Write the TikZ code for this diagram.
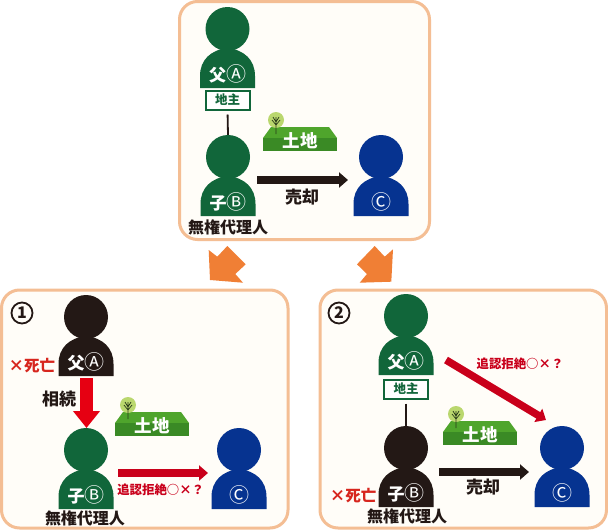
\documentclass[tikz,border=0pt]{standalone}
\usepackage{fontspec}
\setmainfont{Noto Sans CJK JP}
\usetikzlibrary{arrows.meta}
\definecolor{panelline}{HTML}{F4BE94}
\definecolor{panelfill}{HTML}{FFFDF8}
\definecolor{pgreen}{HTML}{11663A}
\definecolor{pblue}{HTML}{063390}
\definecolor{pblack}{HTML}{231815}
\definecolor{parrow}{HTML}{F07F35}
\definecolor{redone}{HTML}{E60012}
\definecolor{redtwo}{HTML}{C9001B}
\definecolor{redtext}{HTML}{D7261E}
\definecolor{landtop}{HTML}{4FA52C}
\definecolor{landside}{HTML}{3A8A25}
\definecolor{treecol}{HTML}{BAD76E}
\newcommand\circd[1]{{\fontsize{20}{20}\selectfont\raisebox{-.5pt}{#1}}}
\tikzset{
  panel/.style={draw=panelline,fill=panelfill,line width=3pt,rounded corners=18pt},
  blockarrow/.style={fill=parrow,draw=none},
  head/.style={circle,draw=none,minimum size=44pt,inner sep=0pt},
  plabel/.style={text=white,font=\fontsize{17}{17}\selectfont,inner sep=0pt},
  lbl/.style={text=pblack,font=\bfseries\fontsize{16}{16}\selectfont,inner sep=0pt},
  sell/.style={text=pblack,font=\bfseries\fontsize{17}{17}\selectfont,inner sep=0pt},
  deadlbl/.style={text=redtext,font=\bfseries\fontsize{15.5}{16}\selectfont,inner sep=0pt},
  asklbl/.style={text=redtwo,font=\bfseries\fontsize{12.4}{13}\selectfont,inner sep=0pt},
  ownerbox/.style={draw=pgreen,fill=white,line width=2pt,minimum width=44pt,minimum height=19pt,inner sep=0pt,text=pgreen,font=\bfseries\fontsize{12.5}{13}\selectfont},
  landlbl/.style={text=white,font=\bfseries\fontsize{17.5}{18}\selectfont,inner sep=0pt},
  sellarrow/.style={draw=pblack,line width=8pt,-{Triangle[length=9pt,width=15pt]}},
  askarrow/.style={draw=redtwo,line width=7.5pt,-{Triangle[length=9pt,width=15pt]}},
  inherit/.style={draw=redone,line width=13pt,-{Triangle[length=17pt,width=26pt]}},
  tie/.style={draw=pblack,line width=1.8pt,shorten <=4pt},
  numc/.style={circle,draw=pblack,line width=1.8pt,minimum size=21pt,inner sep=0pt,font=\bfseries\fontsize{16}{16}\selectfont,text=pblack}
}
% name, x, y (head centre), colour, label
\newcommand\personfig[5]{%
  \fill[#4] (#2-27.5,#3+59) -- (#2-27.5,#3+47) .. controls (#2-27.5,#3+31) and (#2-17,#3+21) .. (#2,#3+19)
     .. controls (#2+17,#3+21) and (#2+27.5,#3+31) .. (#2+27.5,#3+47) -- (#2+27.5,#3+59) -- cycle;
  \node[head,fill=#4] (#1) at (#2,#3) {};
  \node[plabel] (#1t) at (#2,#3+45) {#5};
}
% name, left x, top y
\newcommand\landfig[3]{%
  \fill[landtop] (#2+8,#3) -- (#2+66,#3) -- (#2+74,#3+11) -- (#2,#3+11) -- cycle;
  \fill[landside] (#2,#3+11) rectangle (#2+74,#3+24);
  \fill[treecol] (#2+13,#3-7) circle[radius=8pt];
  \draw[pblack!70!landside,line width=.7pt] (#2+13,#3+7) -- (#2+13,#3-10) (#2+13,#3-2) -- (#2+9,#3-7) (#2+13,#3-2) -- (#2+17,#3-7) (#2+13,#3-5) -- (#2+10,#3-10) (#2+13,#3-5) -- (#2+16,#3-10);
  \node[landlbl] (#1) at (#2+37,#3+14) {土地};
}
\begin{document}
\begin{tikzpicture}[x=1pt,y=-1pt]
\useasboundingbox (0,0) rectangle (608,530);
\fill[white] (0,0) rectangle (608,530);
% panels
\draw[panel] (179.5,1.5) rectangle (429.5,239.5);
\draw[panel] (1.5,290) rectangle (288,528);
\draw[panel] (320,290) rectangle (606.5,528);
% orange arrows
\fill[blockarrow] (208.7,250) -- (217.3,256.7) -- (227.3,246) -- (245.7,264.3) -- (235.3,274) -- (243,282.7) -- (210,280) -- cycle;
\fill[blockarrow] (393,249.3) -- (384.7,256.7) -- (374.7,246) -- (357,264.3) -- (367,274) -- (359.7,282.7) -- (391.3,281.7) -- cycle;
% top panel
\personfig{ta}{227.5}{29}{pgreen}{\textbf{父}\circd{Ⓐ}}
\personfig{tb}{228}{157}{pgreen}{\textbf{子}\circd{Ⓑ}}
\personfig{tc}{381}{157}{pblue}{\circd{Ⓒ}}
\node[ownerbox] (tbox) at (227.5,100) {地主};
\draw[tie] (tbox.south) -- (tb.north);
\landfig{tland}{263}{127}
\coordinate (ts) at (257,180);
\coordinate (te) at (348,180);
\draw[sellarrow] (ts) -- (te);
\node[sell] (tsell) at (302,197) {売却};
\node[lbl] (tmuken) at (228,227) {無権代理人};
% panel 1
\node[numc] (n1) at (22,313) {1};
\personfig{oa}{86}{317}{pblack}{\textbf{父}\circd{Ⓐ}}
\personfig{ob}{86}{450}{pgreen}{\textbf{子}\circd{Ⓑ}}
\personfig{oc}{239}{450}{pblue}{\circd{Ⓒ}}
\coordinate (oi) at (86.5,378);
\coordinate (oj) at (86.5,428);
\draw[inherit] (oi) -- (oj);
\node[sell] (oinh) at (59,399) {相続};
\node[deadlbl] (odead) at (32,366) {×死亡};
\landfig{oland}{115}{412}
\coordinate (os) at (118,473);
\coordinate (oe) at (208,473);
\draw[askarrow] (os) -- (oe);
\node[asklbl] (oask) at (160.7,490) {追認拒絶○×？};
\node[lbl] (omuken) at (85,518) {無権代理人};
% panel 2
\node[numc] (n2) at (339,313) {2};
\personfig{wa}{406}{316}{pgreen}{\textbf{父}\circd{Ⓐ}}
\personfig{wb}{406}{448}{pblack}{\textbf{子}\circd{Ⓑ}}
\personfig{wc}{562}{448}{pblue}{\circd{Ⓒ}}
\node[ownerbox] (wbox) at (406,389) {地主};
\draw[tie] (wbox.south) -- (wb.north);
\landfig{wland}{443}{421}
\coordinate (ws) at (446,360);
\coordinate (we) at (546,420);
\draw[askarrow] (ws) -- (we);
\node[asklbl] (wask) at (520,364) {追認拒絶○×？};
\coordinate (wss) at (439,472);
\coordinate (wse) at (529,472);
\draw[sellarrow] (wss) -- (wse);
\node[sell] (wsell) at (483,487) {売却};
\node[deadlbl] (wdead) at (353,496) {×死亡};
\node[lbl] (wmuken) at (407,516) {無権代理人};
\end{tikzpicture}
\end{document}
